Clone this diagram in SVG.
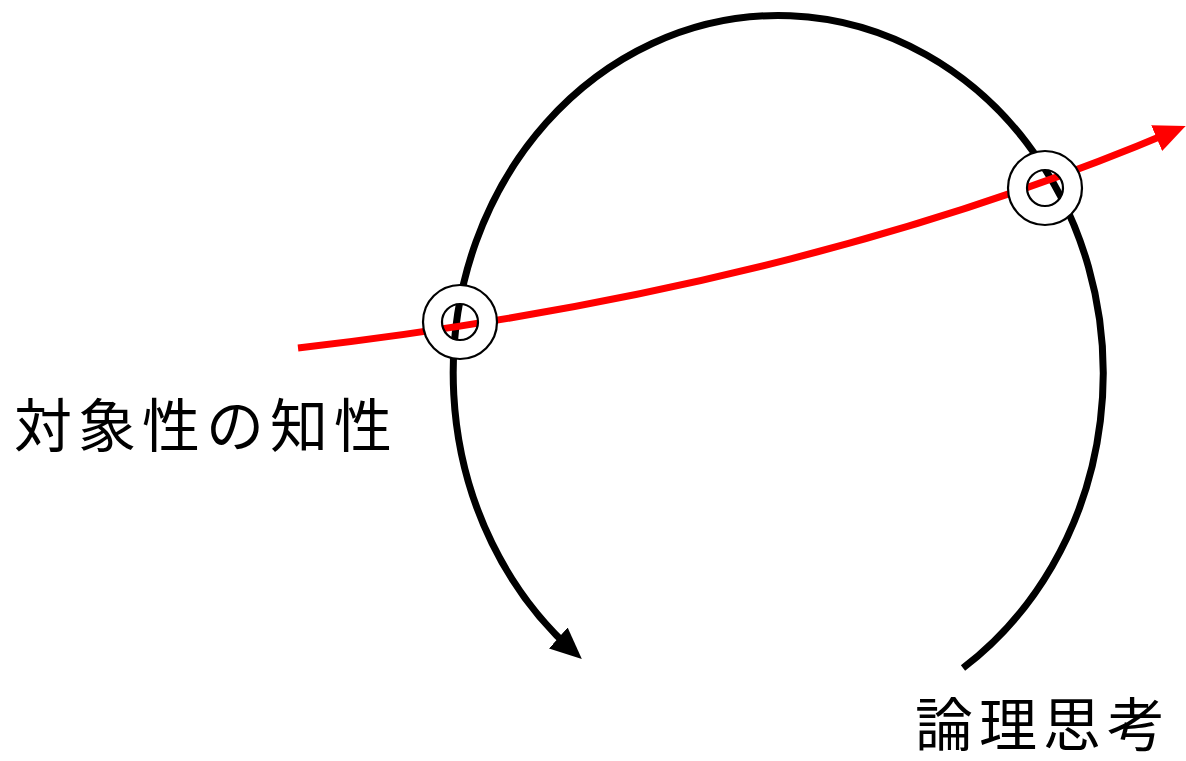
<svg xmlns="http://www.w3.org/2000/svg" width="1186" height="761" viewBox="0 0 1186 761">
<style>
.lbl{font-family:"Noto Sans CJK JP","Noto Sans CJK SC",sans-serif;font-size:58px;fill:#000}
.ring{fill:none;stroke:#fff;stroke-width:19}
.rl{fill:none;stroke:#000;stroke-width:2.2}
</style>
<defs>
<marker id="ab" markerWidth="6" markerHeight="6" refX="3" refY="2" orient="auto" markerUnits="strokeWidth" viewBox="0 0 6 4">
<path d="M0,0 L4.5,2 L0,4 Z" fill="#000"/>
</marker>
<marker id="ar" markerWidth="6" markerHeight="6" refX="3" refY="2" orient="auto" markerUnits="strokeWidth" viewBox="0 0 6 4">
<path d="M0,0 L4.5,2 L0,4 Z" fill="#f00"/>
</marker>
</defs>
<g id="connectors">
<path d="M963,668 A325,358 0 1 0 574,652" fill="none" stroke="#000" stroke-width="7" marker-end="url(#ab)"/>
<path d="M298,348 Q800,290 1176,130" fill="none" stroke="#f00" stroke-width="7" marker-end="url(#ar)"/>
</g>
<g id="node-left">
<circle cx="460" cy="322" r="27.5" class="ring"/>
<circle cx="460" cy="322" r="37" class="rl"/>
<circle cx="460" cy="322" r="18" class="rl"/>
</g>
<g id="node-right">
<circle cx="1045" cy="188" r="27.5" class="ring"/>
<circle cx="1045" cy="188" r="37" class="rl"/>
<circle cx="1045" cy="188" r="18" class="rl"/>
</g>
<g id="label-left"><text x="14" y="447" class="lbl" textLength="378">対象性の知性</text></g>
<g id="label-right"><text x="915" y="746" class="lbl" textLength="250">論理思考</text></g>
</svg>
